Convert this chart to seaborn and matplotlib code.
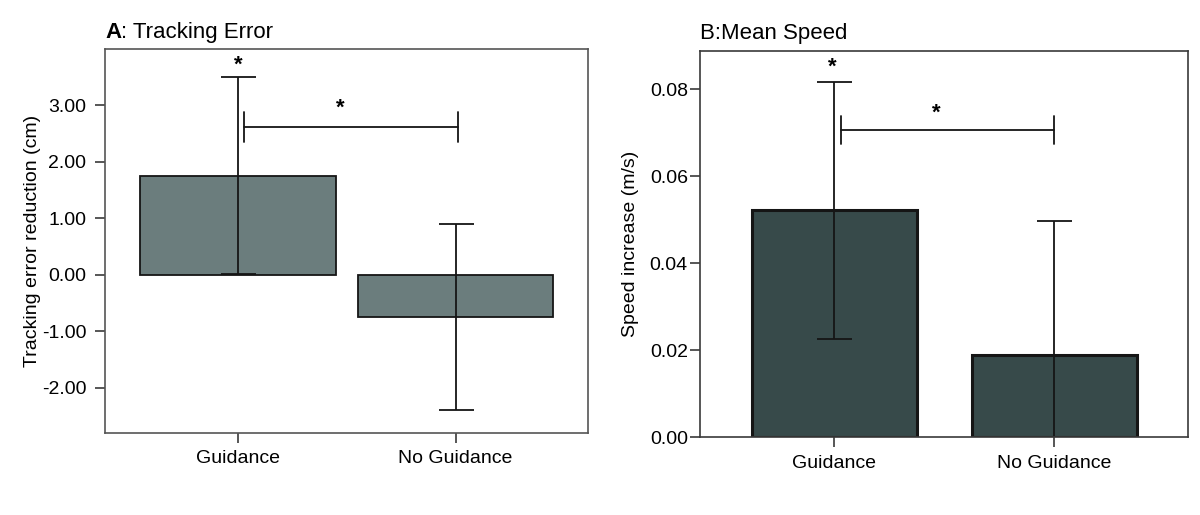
import numpy as np
import pandas as pd
import seaborn as sns
import matplotlib.pyplot as plt

# data
groups = ['Guidance', 'No Guidance']
track_mean = [1.76, -0.75]
track_err = [1.75, 1.65]
speed_mean = [0.0522, 0.0190]
speed_err = [0.0295, 0.0307]

track_ticks = [-2.0, -1.0, 0.0, 1.0, 2.0, 3.0]
speed_ticks = [0.0, 0.02, 0.04, 0.06, 0.08]

# significance markers: (x, y) for star, bracket span and height
track_star = (0.0, 3.72)
track_bracket = (0.03, 1.01, 2.62, 0.27)
speed_star = (-0.01, 0.0850)
speed_bracket = (0.03, 1.0, 0.0706, 0.0032)


def draw_panel(ax, means, errs, color, width, edge_lw, ylim, ticks, star, bracket, ypad):
    df = pd.DataFrame({'group': groups, 'value': means})
    sns.barplot(data=df, x='group', y='value', color=color, width=width,
                edgecolor='#151515', linewidth=edge_lw, saturation=1,
                errorbar=None, ax=ax)
    ax.errorbar(x=range(len(groups)), y=means, yerr=errs, fmt='none',
                ecolor='#151515', elinewidth=1.3, capsize=12.6, capthick=1.3)
    ax.set_xlim(-0.61, 1.61)
    ax.set_ylim(*ylim)
    ax.set_xlabel('')
    # stars and bracket
    x0, x1, yb, h = bracket
    ax.plot([x0, x1], [yb, yb], color='#151515', lw=1.3)
    ax.plot([x0, x0], [yb - h, yb + h], color='#151515', lw=1.3)
    ax.plot([x1, x1], [yb - h, yb + h], color='#151515', lw=1.3)
    ax.text(star[0], star[1], '*', ha='center', va='center', fontsize=16, fontweight='bold')
    ax.text((x0 + x1) / 2 - 0.05, yb + h * 1.2, '*', ha='center', va='center',
            fontsize=16, fontweight='bold')
    for s in ax.spines.values():
        s.set_color('#3a3a3a')
        s.set_linewidth(1.2)
    ax.tick_params(axis='both', direction='out', length=7.5, width=1.2, color='#3a3a3a',
                   labelsize=14, labelcolor='black', left=True, bottom=True)
    ax.tick_params(axis='x', pad=5)
    ax.tick_params(axis='y', pad=ypad)


sns.set_style('white')
plt.rcParams['font.family'] = ['Liberation Sans', 'DejaVu Sans']
plt.rcParams['text.color'] = 'black'
plt.rcParams['axes.labelcolor'] = 'black'

fig = plt.figure(figsize=(12, 5.15), dpi=100)
ax1 = fig.add_axes([0.0877, 0.1592, 0.4025, 0.7456])
ax2 = fig.add_axes([0.5836, 0.1509, 0.4066, 0.7501])

draw_panel(ax1, track_mean, track_err, '#6b7d7d', 0.9, 1.3, (-2.8, 4.0),
           track_ticks, track_star, track_bracket, 6)
ax1.set_yticks(track_ticks, labels=[f'{v:.2f}' for v in track_ticks])
ax1.set_ylabel('Tracking error reduction (cm)', fontsize=14, labelpad=1)
for s in ax1.spines.values():
    s.set_color('#555555')

draw_panel(ax2, speed_mean, speed_err, '#374a4a', 0.75, 2.2, (0, 0.0888),
           speed_ticks, speed_star, speed_bracket, 1.5)
ax2.set_yticks(speed_ticks, labels=[f'{v:.2f}' for v in speed_ticks])
ax2.set_ylabel('Speed increase (m/s)', fontsize=14, labelpad=8)

# titles
t = ax1.text(0.0, 1.017, 'A', transform=ax1.transAxes, fontsize=16,
             fontweight='bold', ha='left', va='bottom')
ax1.annotate(': Tracking Error', xy=(1, 0), xycoords=t, fontsize=16,
             ha='left', va='bottom')
ax2.text(0.0, 1.017, 'B:Mean Speed', transform=ax2.transAxes, fontsize=16,
         ha='left', va='bottom')

plt.savefig('out.png', dpi=100)
